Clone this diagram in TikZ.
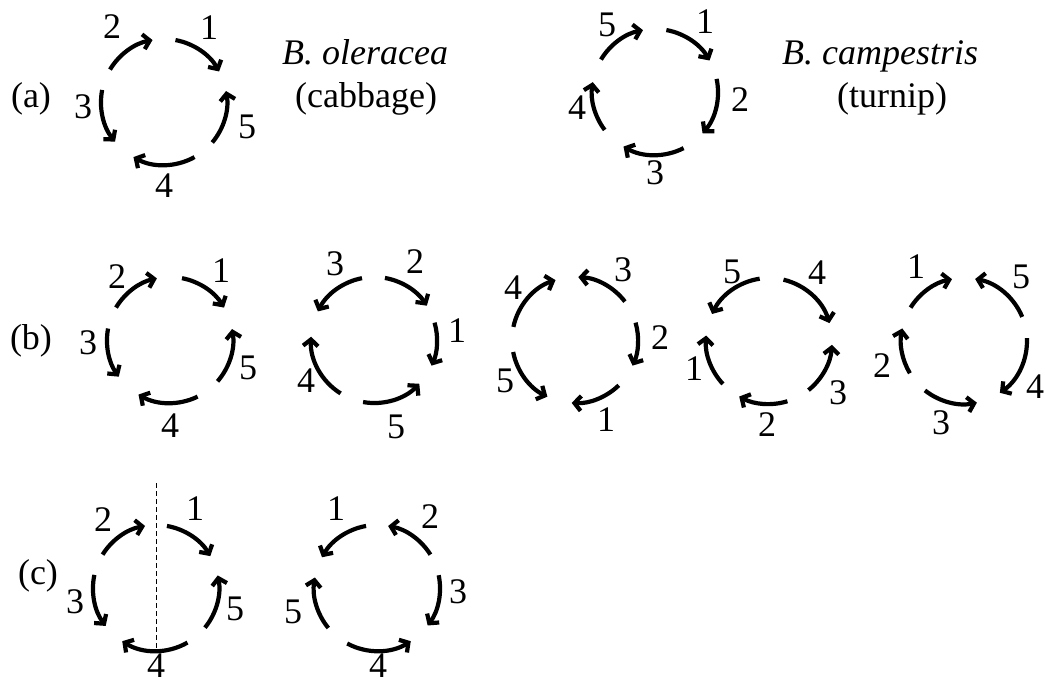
\documentclass[tikz,border=0pt]{standalone}
\usepackage{fontspec}
\setmainfont{Liberation Serif}
\usetikzlibrary{arrows.meta}
\newcommand\cyarc[3]{\draw[arw] (#1) ++(#2:63) arc[start angle=#2, end angle=#3, radius=63];}
\begin{document}
\begin{tikzpicture}[x=1pt,y=1pt,
  arw/.style={line width=4.2pt,-{Straight Barb[length=6.5pt,width=15pt]}},
  num/.style={inner sep=0pt,font=\fontsize{36}{40}\selectfont},
  txt/.style={inner sep=0pt,anchor=base west,font=\fontsize{36}{40}\selectfont},
  tag/.style={inner sep=0pt,anchor=base,font=\fontsize{36}{40}\selectfont}]
\useasboundingbox (0,0) rectangle (1045,-686);
\fill[white] (0,0) rectangle (1045,-686);

% row labels and species names
\node[tag] (ta) at (31,-107) {(a)};
\node[tag] (tb) at (31,-349) {(b)};
\node[tag] (tc) at (38,-584) {(c)};
\node[txt] (ole) at (282,-64) {\textit{B. oleracea}};
\node[txt] (cab) at (295,-107) {(cabbage)};
\node[txt] (cam) at (782,-64) {\textit{B. campestris}};
\node[txt] (tur) at (837,-107) {(turnip)};

% (a) left
\coordinate (aL) at (164,-102);
\cyarc{aL}{149}{100.5}
\cyarc{aL}{79.5}{29}
\cyarc{aL}{169}{219}
\cyarc{aL}{299}{241}
\cyarc{aL}{320}{370}
\node[num] (aL1) at (209,-28) {1};
\node[num] (aL2) at (112,-27) {2};
\node[num] (aL3) at (83,-107) {3};
\node[num] (aL4) at (164,-186) {4};
\node[num] (aL5) at (247,-127) {5};

% (a) right
\coordinate (aR) at (655,-92);
\cyarc{aR}{149}{101}
\cyarc{aR}{79.6}{30}
\cyarc{aR}{12}{-41}
\cyarc{aR}{297}{240}
\cyarc{aR}{217}{171}
\node[num] (aR5) at (607,-25) {5};
\node[num] (aR1) at (705,-22) {1};
\node[num] (aR2) at (740,-100) {2};
\node[num] (aR3) at (655,-173) {3};
\node[num] (aR4) at (577,-108) {4};

% (b) 1
\coordinate (bA) at (170,-340);
\cyarc{bA}{149}{102}
\cyarc{bA}{79}{31}
\cyarc{bA}{169.5}{215.6}
\cyarc{bA}{296}{240}
\cyarc{bA}{319}{370}
\node[num] (bA2) at (117,-277) {2};
\node[num] (bA1) at (221,-271) {1};
\node[num] (bA3) at (88,-343) {3};
\node[num] (bA5) at (248,-368) {5};
\node[num] (bA4) at (170,-426) {4};

% (b) 2
\coordinate (bB) at (374,-340);
\cyarc{bB}{101}{153}
\cyarc{bB}{80}{33}
\cyarc{bB}{16}{-24}
\cyarc{bB}{260}{316}
\cyarc{bB}{238}{177}
\node[num] (bB3) at (335,-264) {3};
\node[num] (bB2) at (415,-262) {2};
\node[num] (bB1) at (457,-331) {1};
\node[num] (bB4) at (306,-381) {4};
\node[num] (bB5) at (396,-427) {5};

% (b) 3
\coordinate (bC) at (575,-340);
\cyarc{bC}{168}{108}
\cyarc{bC}{37.6}{87}
\cyarc{bC}{16}{-24}
\cyarc{bC}{314}{267}
\cyarc{bC}{191}{244}
\node[num] (bC4) at (513,-288) {4};
\node[num] (bC3) at (623,-270) {3};
\node[num] (bC2) at (660,-338) {2};
\node[num] (bC1) at (606,-420) {1};
\node[num] (bC5) at (505,-381) {5};

% (b) 4
\coordinate (bD) at (769,-341);
\cyarc{bD}{98.5}{154.6}
\cyarc{bD}{76.7}{16.5}
\cyarc{bD}{308.8}{356.5}
\cyarc{bD}{287}{241.8}
\cyarc{bD}{223}{175}
\node[num] (bD5) at (732,-272) {5};
\node[num] (bD4) at (817,-273) {4};
\node[num] (bD1) at (694,-369) {1};
\node[num] (bD3) at (838,-393) {3};
\node[num] (bD2) at (767,-425) {2};

% (b) 5
\coordinate (bE) at (964,-341);
\cyarc{bE}{148}{101}
\cyarc{bE}{22.5}{79.8}
\cyarc{bE}{2.7}{-55.3}
\cyarc{bE}{231.7}{281.8}
\cyarc{bE}{210.8}{168.5}
\node[num] (bE1) at (916,-267) {1};
\node[num] (bE5) at (1021,-277) {5};
\node[num] (bE2) at (882,-366) {2};
\node[num] (bE4) at (1035,-387) {4};
\node[num] (bE3) at (941,-423) {3};

% (c) 1
\coordinate (cA) at (156,-588);
\coordinate (cut1) at (156,-483);
\coordinate (cut2) at (156,-653);
\draw[line width=1pt,dash pattern=on 5pt off 3pt] (cut1) -- (cut2);
\cyarc{cA}{148}{100}
\cyarc{cA}{80}{30.4}
\cyarc{cA}{168}{217}
\cyarc{cA}{300}{237.6}
\cyarc{cA}{321}{371.5}
\node[num] (cA2) at (103,-520) {2};
\node[num] (cA1) at (195,-509) {1};
\node[num] (cA3) at (75,-602) {3};
\node[num] (cA5) at (235,-609) {5};
\node[num] (cA4) at (156,-666) {4};

% (c) 2
\coordinate (cB) at (377,-588);
\cyarc{cB}{100}{150.8}
\cyarc{cB}{32}{79.8}
\cyarc{cB}{11.7}{-36.5}
\cyarc{cB}{241.8}{302.4}
\cyarc{cB}{219.4}{170.4}
\node[num] (cB1) at (336,-509) {1};
\node[num] (cB2) at (430,-517) {2};
\node[num] (cB3) at (458,-592) {3};
\node[num] (cB5) at (293,-612) {5};
\node[num] (cB4) at (378,-666) {4};
\end{tikzpicture}
\end{document}
